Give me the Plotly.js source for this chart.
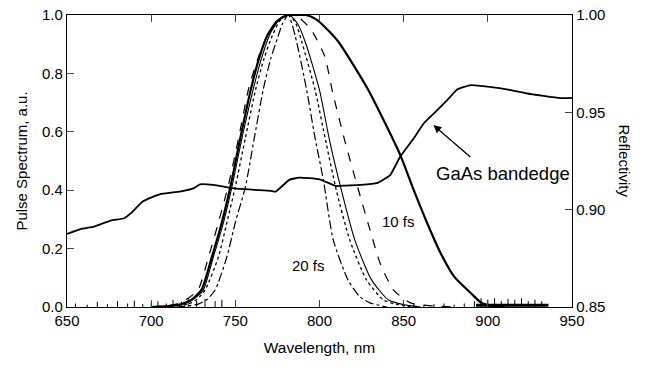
<!DOCTYPE html>
<html>
<head>
<meta charset="utf-8">
<script src="https://cdn.plot.ly/plotly-3.0.1.min.js"></script>
<style>html,body{margin:0;padding:0;background:#fff;}#chart{width:652px;height:370px;}</style>
</head>
<body>
<div id="chart"></div>
<script>
// Pulse spectra (left axis)
const wlThick = [700,712,718,724,730,736,742,747,753,759,764,769,775,781,786,792,798,803,811,820,829,836,848,856,864,872,880,890,896,902,910];
const spThick = [0,0.004,0.01,0.025,0.06,0.17,0.29,0.41,0.58,0.74,0.85,0.93,0.98,1.0,1.0,1.0,0.985,0.96,0.91,0.83,0.743,0.664,0.52,0.40,0.287,0.184,0.104,0.047,0.015,0.004,0];

const wlDash = [700,715,722,728,734,740,746,752,758,764,770,776,782,788,795,803,808,815,822,830,836,844,854,865,880];
const spDash = [0,0.01,0.03,0.06,0.17,0.29,0.42,0.58,0.75,0.86,0.94,0.99,1.0,0.99,0.95,0.86,0.73,0.57,0.424,0.264,0.15,0.058,0.014,0.005,0];

const wlThin = [705,720,726,731,737,743,748,754,760.5,766,771,777,782,787,792,800,806,813,821,831,841,850,860];
const spThin = [0,0.012,0.03,0.058,0.172,0.29,0.412,0.58,0.743,0.86,0.94,0.99,1.0,0.97,0.9,0.743,0.57,0.40,0.229,0.092,0.024,0.008,0];

const wlDot = [705,722,727,732,740,745,750,756,762,767,772,777,782,786,789.4,797.4,804,810,818,828,838,845,855];
const spDot = [0,0.01,0.025,0.058,0.172,0.29,0.412,0.58,0.743,0.85,0.93,0.985,1.0,0.97,0.91,0.743,0.56,0.40,0.229,0.092,0.024,0.01,0];

const wlDashDot = [715,728,733,738,745,750,756,761,766.5,771,775,778,781.5,785.5,792.4,797,802.3,808.2,817,824,830,840];
const spDashDot = [0,0.01,0.025,0.058,0.172,0.29,0.412,0.57,0.743,0.85,0.92,0.97,1.0,0.93,0.743,0.59,0.435,0.229,0.092,0.035,0.014,0];

const noiseWl = [655,662,668,674,680,686,690,695,700,704,709,713,718,722,727,732,738,742,850,856,862,868,874,880,886,892,896,900,904,908,912,916,920,924,928,932];
const noiseHt = [0.012,0.008,0.018,0.01,0.02,0.012,0.022,0.01,0.015,0.02,0.012,0.025,0.018,0.03,0.022,0.028,0.02,0.025,0.01,0.012,0.008,0.01,0.012,0.008,0.012,0.02,0.03,0.025,0.03,0.02,0.028,0.025,0.03,0.02,0.025,0.02];
const floorWl = [893,936];
const floorVal = [0.006,0.006];

// Reflectivity (right axis)
const wlRefl = [650,658,666,676,684,688,695,705,717,725,729,737,749,761,771,774,782,788,800,810,816,824,834,842,848,856,862,868,876,882,890,901,913,923,943,950];
const refl = [0.8875,0.890,0.8913,0.8944,0.8956,0.8982,0.9042,0.9079,0.9093,0.9109,0.913,0.9127,0.9109,0.9102,0.9097,0.9093,0.9153,0.9165,0.9156,0.9121,0.9124,0.9127,0.9136,0.9178,0.9273,0.9367,0.9444,0.9495,0.9564,0.9618,0.964,0.9631,0.9615,0.9597,0.9573,0.9574];

const xTicks = [650,700,750,800,850,900,950];
const yTicks = [0,0.2,0.4,0.6,0.8,1.0];
const y2Ticks = [0.85,0.90,0.95,1.00];

// build vertical spike path from the noise arrays
const nx = [], ny = [];
noiseWl.forEach((w, i) => { nx.push(w, w, null); ny.push(0, noiseHt[i], null); });

const font = "Liberation Sans, Arial, Helvetica, sans-serif";
function spec(x, y, dash, width) {
  return {x: x, y: y, type: 'scatter', mode: 'lines', yaxis: 'y',
    line: {color: '#000', width: width, dash: dash, shape: 'spline', smoothing: 0.6},
    hoverinfo: 'skip', showlegend: false};
}
const traces = [
  {x: nx, y: ny, type: 'scatter', mode: 'lines', yaxis: 'y', connectgaps: false,
   line: {color: '#000', width: 1}, showlegend: false},
  {x: floorWl, y: floorVal, type: 'scatter', mode: 'lines', yaxis: 'y',
   line: {color: '#000', width: 3}, showlegend: false},
  spec(wlDash, spDash, 'dash', 1.2),
  spec(wlThin, spThin, 'solid', 1.1),
  spec(wlDot, spDot, 'dot', 1.3),
  spec(wlDashDot, spDashDot, 'dashdot', 1.2),
  spec(wlThick, spThick, 'solid', 2.2),
  {x: wlRefl, y: refl, type: 'scatter', mode: 'lines', yaxis: 'y2',
   line: {color: '#000', width: 1.8, shape: 'spline', smoothing: 0.4}, showlegend: false}
];

const layout = {
  width: 652, height: 370,
  margin: {l: 67, r: 80, t: 15, b: 63},
  paper_bgcolor: '#fff', plot_bgcolor: '#fff',
  font: {family: font, size: 15, color: '#000'},
  showlegend: false,
  xaxis: {range: [650, 950], tickvals: xTicks, ticks: 'inside', ticklen: 7, tickwidth: 1,
    showline: true, linecolor: '#000', linewidth: 1.2, mirror: 'ticks', showgrid: false, zeroline: false,
    title: {text: 'Wavelength, nm', font: {size: 15.5}, standoff: 14}, tickfont: {size: 15}},
  yaxis: {range: [0, 1.0], tickvals: yTicks, tickformat: '.1f', ticks: 'inside', ticklen: 7,
    showline: true, linecolor: '#000', linewidth: 1.2, mirror: true, showgrid: false, zeroline: false,
    title: {text: 'Pulse Spectrum, a.u.', font: {size: 15}, standoff: 10}, tickfont: {size: 15}},
  yaxis2: {range: [0.85, 1.00], tickvals: y2Ticks, tickformat: '.2f', ticks: 'inside', ticklen: 7,
    overlaying: 'y', side: 'right', showline: true, linecolor: '#000', linewidth: 1.2,
    showgrid: false, zeroline: false, tickfont: {size: 15}},
  annotations: [
    {x: 847, y: 0.292, xref: 'x', yref: 'y', text: '10 fs', showarrow: false, font: {size: 15}},
    {x: 793.4, y: 0.141, xref: 'x', yref: 'y', text: '20 fs', showarrow: false, font: {size: 15}},
    {x: 909.3, y: 0.458, xref: 'x', yref: 'y', text: 'GaAs bandedge', showarrow: false, font: {size: 18.5}},
    {x: 867.7, y: 0.623, xref: 'x', yref: 'y', ax: 890.5, ay: 0.509, axref: 'x', ayref: 'y',
     text: '', showarrow: true, arrowhead: 2, arrowsize: 1.2, arrowwidth: 1.3, arrowcolor: '#000'},
    {x: 1.125, y: 0.5, xref: 'paper', yref: 'paper', text: 'Reflectivity', textangle: 90,
     showarrow: false, font: {size: 15}}
  ]
};
Plotly.newPlot('chart', traces, layout, {staticPlot: true, displayModeBar: false});
</script>
</body>
</html>
